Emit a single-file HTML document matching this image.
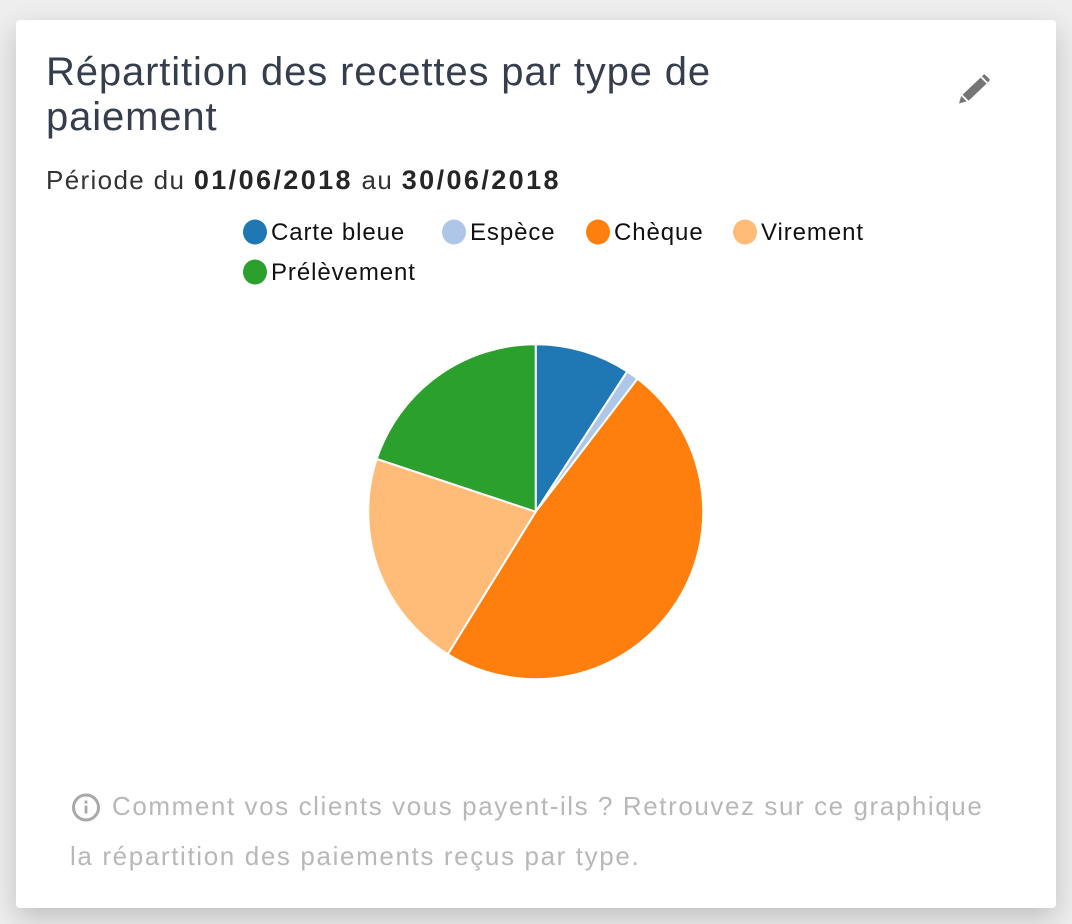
<!DOCTYPE html>
<html lang="fr">
<head>
<meta charset="utf-8">
<title>Répartition des recettes par type de paiement</title>
<style>
html,body{margin:0;padding:0;width:1072px;height:924px;overflow:hidden;background:#eeeeee;font-family:"Liberation Sans",sans-serif;}
#card{position:absolute;left:16px;top:20px;width:1040px;height:888px;background:#fff;border-radius:4px;box-shadow:0 10px 28px rgba(0,0,0,.2);}
.t{position:absolute;white-space:nowrap;margin:0;font-weight:normal;}
#title1,#title2{left:46px;font-size:40px;line-height:44px;color:#363d4c;letter-spacing:.87px;}
#title1{top:50px;}
#title2{top:95px;}
#period{left:46px;top:165px;font-size:26px;line-height:30px;color:#333;letter-spacing:1.35px;}
#period b{color:#262626;font-size:27px;letter-spacing:2.4px;}
.note{font-size:26px;line-height:30px;color:#b8b8b8;letter-spacing:1.58px;}
svg{position:absolute;left:0;top:0;}
</style>
</head>
<body>
<div id="card"></div>
<h1 class="t" id="title1">Répartition des recettes par type de</h1>
<h1 class="t" id="title2">paiement</h1>
<p class="t" id="period">Période du <b>01/06/2018</b> au <b>30/06/2018</b></p>

<svg id="edit" width="1072" height="924" style="pointer-events:none">
  <g fill="#757575">
    <polygon points="959,103.5 961.2,96 966.6,101.4"/>
    <polygon points="962.6,94.6 980.6,77.6 986.6,83.6 968.6,100.8"/>
    <path d="M982 76.4 983 75.2a1.8 1.8 0 0 1 2.6 0L989 78.6a1.8 1.8 0 0 1 0 2.6L987.8 82.4Z"/>
  </g>
</svg>

<svg id="info" width="1072" height="924">
  <circle cx="86" cy="807.5" r="12.5" fill="none" stroke="#a9a9a9" stroke-width="3"/>
  <rect x="84.6" y="805.5" width="2.8" height="8" fill="#a9a9a9"/>
  <rect x="84.6" y="800.6" width="2.8" height="3" fill="#a9a9a9"/>
</svg>

<svg id="chart" width="1072" height="924"></svg>

<p class="t note" style="left:112px;top:791px">Comment vos clients vous payent-ils ? Retrouvez sur ce graphique</p>
<p class="t note" style="left:70px;top:841px;letter-spacing:1.63px">la répartition des paiements reçus par type.</p>

<script>
const categories = ['Carte bleue', 'Espèce', 'Chèque', 'Virement', 'Prélèvement'];
const seriesValues = [9.2, 1.2, 48.4, 21.3, 19.9];
const colors = ['#1f77b4', '#aec7e8', '#ff7f0e', '#ffbb78', '#2ca02c'];

const NS = 'http://www.w3.org/2000/svg';
const svg = document.getElementById('chart');
const cx = 535.7, cy = 511.7, radius = 167.5;
const total = seriesValues.reduce(function (a, b) { return a + b; }, 0);

function angleOf(v) { return v / total * Math.PI * 2; }
function px(a) { return cx + radius * Math.sin(a); }
function py(a) { return cy - radius * Math.cos(a); }

let acc = 0;
seriesValues.forEach(function (v, i) {
  const a0 = angleOf(acc);
  acc += v;
  const a1 = angleOf(acc);
  const large = a1 - a0 > Math.PI ? 1 : 0;
  const path = document.createElementNS(NS, 'path');
  path.setAttribute('d', 'M' + cx + ' ' + cy + 'L' + px(a0) + ' ' + py(a0) +
    'A' + radius + ' ' + radius + ' 0 ' + large + ' 1 ' + px(a1) + ' ' + py(a1) + 'Z');
  path.setAttribute('fill', colors[i]);
  path.setAttribute('stroke', '#fff');
  path.setAttribute('stroke-width', '2');
  path.setAttribute('stroke-linejoin', 'round');
  
  
  svg.appendChild(path);
});

const legendLayout = [[255, 232, 271], [454, 232, 470], [598, 232, 614], [745, 232, 761], [255, 272, 271]];
categories.forEach(function (c, i) {
  const g = document.createElementNS(NS, 'g');
  
  
  const dot = document.createElementNS(NS, 'ellipse');
  dot.setAttribute('cx', legendLayout[i][0]);
  dot.setAttribute('cy', legendLayout[i][1]);
  dot.setAttribute('rx', 12);
  dot.setAttribute('ry', 12.5);
  dot.setAttribute('fill', colors[i]);
  
  
  const text = document.createElementNS(NS, 'text');
  text.setAttribute('x', legendLayout[i][2]);
  text.setAttribute('y', legendLayout[i][1] + 8);
  text.setAttribute('font-family', '"Liberation Sans", sans-serif');
  text.setAttribute('font-size', '24');
  text.setAttribute('letter-spacing', '0.92');
  text.setAttribute('fill', '#111');
  
  
  text.textContent = c;
  g.appendChild(dot);
  g.appendChild(text);
  svg.appendChild(g);
});
</script>
</body>
</html>
